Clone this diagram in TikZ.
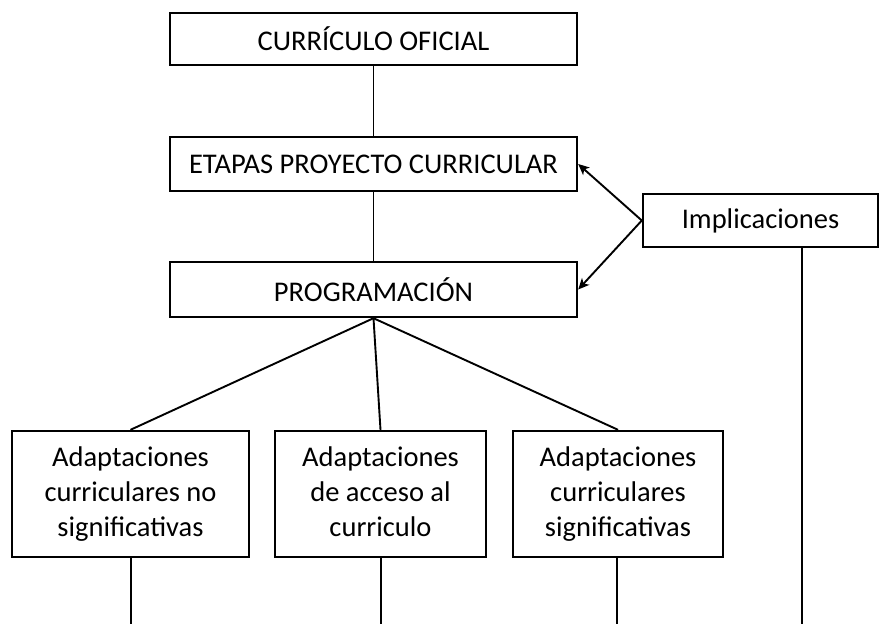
\documentclass[tikz,border=0pt]{standalone}
\usepackage{fontspec}
\setmainfont{Carlito}
\usetikzlibrary{arrows,arrows.meta,positioning}

\begin{document}
\begin{tikzpicture}[x=1pt,y=-1pt,
	caja/.style={draw,line width=2.4pt,inner sep=0pt,align=center,
		font=\fontsize{28.5}{35}\selectfont},
	enlace/.style={line width=1.9pt},
	flecha/.style={line width=1.9pt,-{Stealth[length=11pt,width=10pt,inset=3pt]}}]
	\useasboundingbox (0,0) rectangle (881,624);
	% bloque central
	\node[caja,minimum width=407pt,minimum height=52pt] (oficial) at (373.5,39) {CURRÍCULO OFICIAL};
	\node[caja,minimum width=407pt,minimum height=54pt] (etapas) at (373.5,164) {ETAPAS PROYECTO CURRICULAR};
	\node[caja,minimum width=407pt,minimum height=55pt] (prog) at (373.5,289.5) {PROGRAMACIÓN};
	\node[caja,minimum width=235pt,minimum height=53pt] (impl) at (760.5,220.5) {Implicaciones};
	% adaptaciones
	\node[caja,minimum width=237pt,minimum height=126pt] (adnosig) at (130.5,494) {\strut Adaptaciones\\curriculares no\\significativas\strut};
	\node[caja,minimum width=211pt,minimum height=126pt] (adacceso) at (380.5,494) {\strut Adaptaciones\\de acceso al\\curriculo\strut};
	\node[caja,minimum width=210pt,minimum height=126pt] (adsig) at (618,494) {\strut Adaptaciones\\curriculares\\significativas\strut};
	\draw[enlace] (oficial) -- (etapas);
	\draw[enlace] (etapas) -- (prog);
	\draw[flecha] (impl.west) -- (etapas.east);
	\draw[flecha] (impl.west) -- (prog.east);
	\foreach \ad in {adnosig, adacceso, adsig}
		\draw[enlace] (prog.south) -- (\ad.north);
	% salidas hacia abajo
	\coordinate (pie1) at (131,624);
	\coordinate (pie2) at (381,624);
	\coordinate (pie3) at (617,624);
	\coordinate (pie4) at (802,624);
	\draw[enlace] (pie1 |- adnosig.south) -- (pie1);
	\draw[enlace] (pie2 |- adacceso.south) -- (pie2);
	\draw[enlace] (pie3 |- adsig.south) -- (pie3);
	\draw[line width=2.6pt] (pie4 |- impl.south) -- (pie4);
\end{tikzpicture}
\end{document}
